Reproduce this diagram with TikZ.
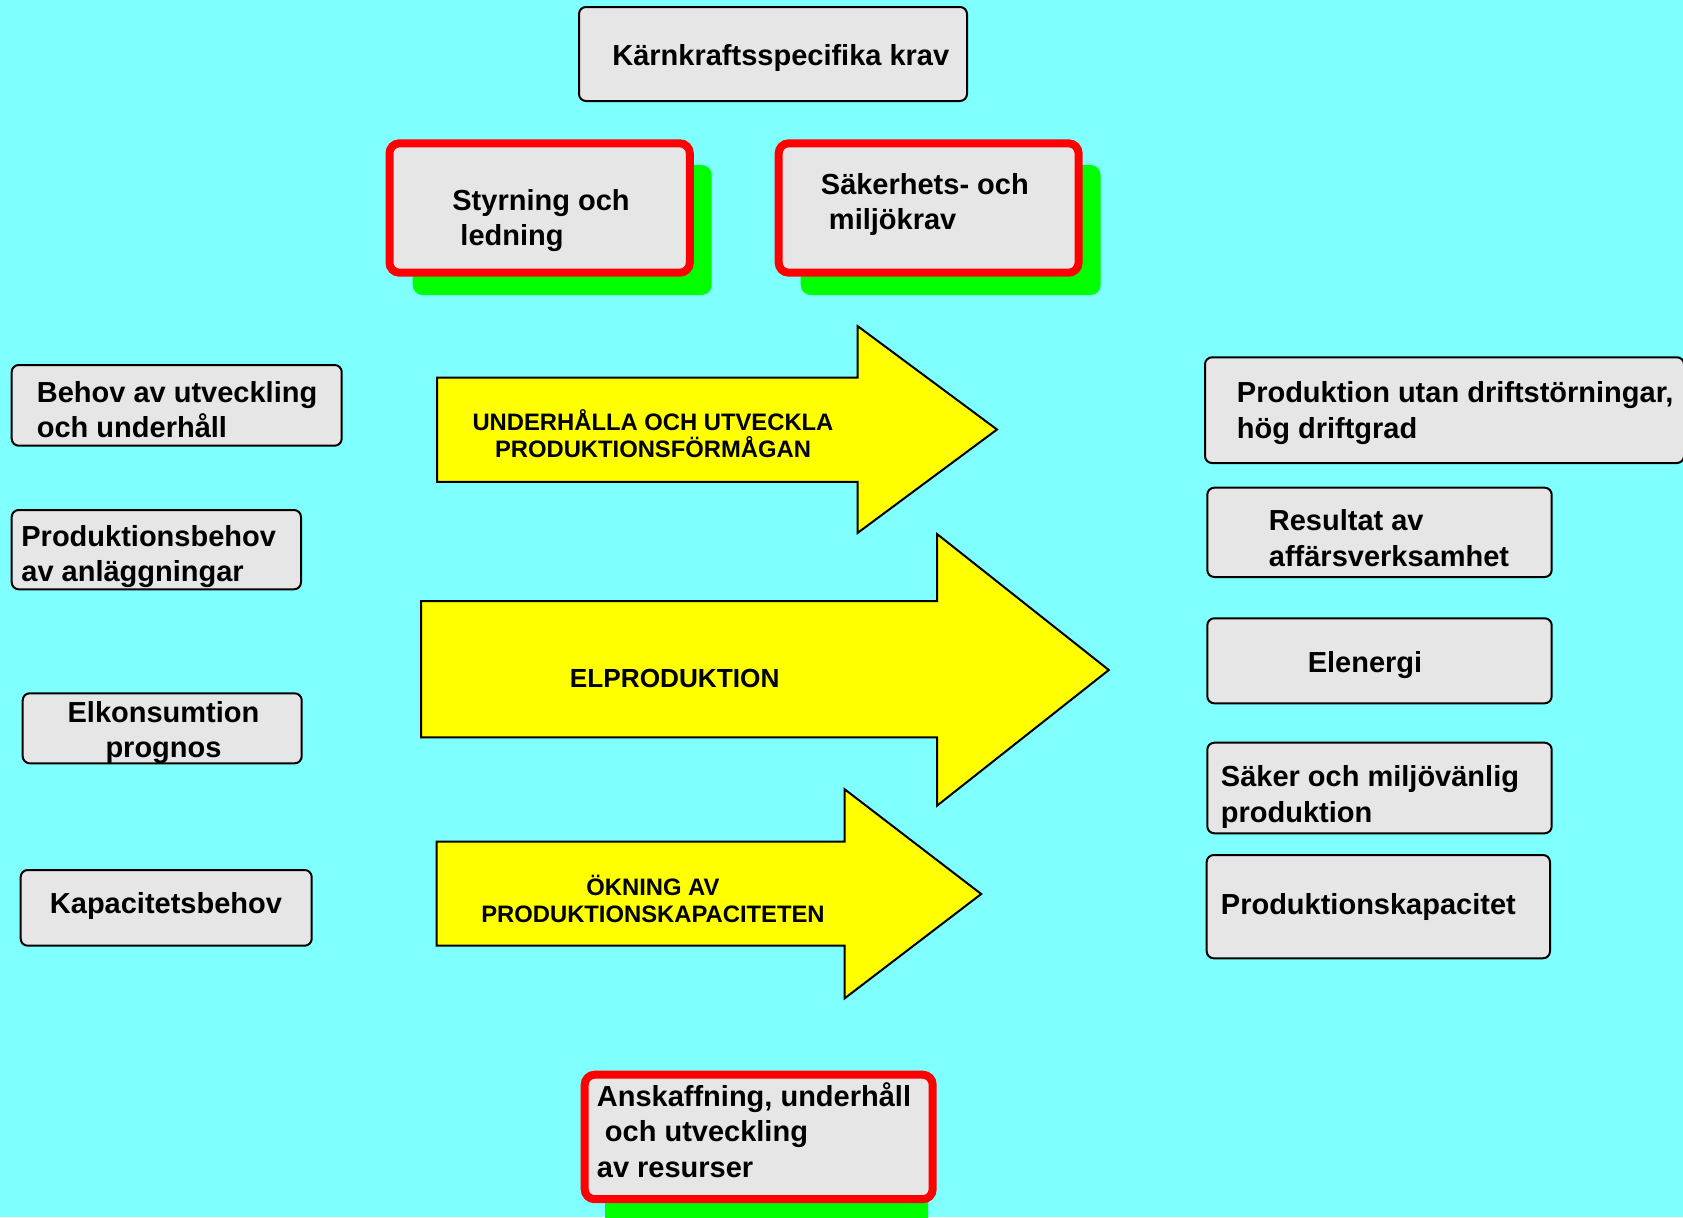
\documentclass[tikz,border=0pt]{standalone}
\usepackage{fontspec}
\setmainfont{Liberation Sans}
\usetikzlibrary{fit}

\definecolor{bgcyan}{HTML}{80FFFF}
\definecolor{boxgrey}{HTML}{E6E6E6}
\definecolor{shadowgreen}{HTML}{00FF00}
\definecolor{framered}{HTML}{FF0000}
\definecolor{arrowyellow}{HTML}{FFFF00}

% strut centred on the cap height, so that a node's centre sits on the text's visual middle
\newcommand\ls{\rule[-0.25em]{0pt}{1.22em}}
\newcommand\lead{\hspace*{0.278em}}

\tikzset{
  greybox/.style={draw=black, line width=1pt, fill=boxgrey, rounded corners=3.5pt, inner sep=0pt},
  redbox/.style={draw=framered, line width=4pt, fill=boxgrey, rounded corners=5pt, inner sep=0pt},
  greenshadow/.style={fill=shadowgreen, rounded corners=5pt, inner sep=0pt},
  boxtext/.style={font=\bfseries\fontsize{14.5}{17.8}\selectfont, inner sep=0pt, align=left, anchor=west},
  boxtextc/.style={font=\bfseries\fontsize{14.5}{17.8}\selectfont, inner sep=0pt, align=center},
  arrowtext/.style={font=\bfseries\fontsize{11.9}{13.6}\selectfont, inner sep=0pt, align=center},
  bigarrow/.style={draw=black, line width=1pt, fill=arrowyellow, line join=miter},
}

\begin{document}
\begin{tikzpicture}[x=0.5pt, y=-0.5pt]
\useasboundingbox (0,0) rectangle (1683,1217);
\fill[bgcyan] (0,0) rectangle (1683,1217);

% ---- top: requirements and steering ----
\node[greybox, fit={(579,7) (967,101)}] (kk) {};
\node[boxtext] (kk-t) at (612,55) {\ls Kärnkraftsspecifika krav};

\node[greenshadow, fit={(412.7,165) (711.7,295)}] (styr-sh) {};
\node[redbox, fit={(389.5,143.3) (689.8,272.7)}] (styr) {};
\node[boxtext] (styr-t) at (452,217.5) {\ls Styrning och\\\lead\ls ledning};

\node[greenshadow, fit={(800.7,165) (1100.6,295)}] (sak-sh) {};
\node[redbox, fit={(778.7,143.3) (1078.6,272.7)}] (sak) {};
\node[boxtext] (sak-t) at (820.5,201.5) {\ls Säkerhets- och\\\lead\ls miljökrav};

% ---- left: needs ----
\node[greybox, fit={(11.7,365) (341.7,445.7)}] (behov) {};
\node[boxtext] (behov-t) at (36.5,409.5) {\ls Behov av utveckling\\\ls och underhåll};

\node[greybox, fit={(11.7,510) (301,589.3)}] (prodbehov) {};
\node[boxtext] (prodbehov-t) at (21,553.5) {\ls Produktionsbehov\\\ls av anläggningar};

\node[greybox, fit={(22.7,693.3) (301.7,763.3)}] (elkons) {};
\node[boxtextc] (elkons-t) at (163.5,729.5) {\ls Elkonsumtion\\\ls prognos};

\node[greybox, fit={(20.7,870) (311.7,945.7)}] (kapbehov) {};
\node[boxtextc] (kapbehov-t) at (166,903) {\ls Kapacitetsbehov};

% ---- centre: process arrows ----
\draw[bigarrow] (437,377.5) -- (857.5,377.5) -- (857.5,326) -- (997,429.5)
  -- (857.5,533) -- (857.5,481.8) -- (437,481.8) -- cycle;
\node[arrowtext] (a1-t) at (653,434) {UNDERHÅLLA OCH UTVECKLA\\PRODUKTIONSFÖRMÅGAN};

\draw[bigarrow] (421,601) -- (937,601) -- (937,534) -- (1108.8,670)
  -- (937,805.7) -- (937,737.3) -- (421,737.3) -- cycle;
\node[arrowtext, font=\bfseries\fontsize{13.1}{15}\selectfont] (a2-t) at (674.7,678.5) {ELPRODUKTION};

\draw[bigarrow] (436.6,841.7) -- (844.7,841.7) -- (844.7,789.3) -- (981.2,894)
  -- (844.7,998.3) -- (844.7,945.7) -- (436.6,945.7) -- cycle;
\node[arrowtext] (a3-t) at (653,899) {ÖKNING AV\\PRODUKTIONSKAPACITETEN};

% ---- right: results ----
\node[greybox, fit={(1205,357.3) (1684,463)}] (drift) {};
\node[boxtext] (drift-t) at (1236.5,410) {\ls Produktion utan driftstörningar,\\\ls hög driftgrad};

\node[greybox, fit={(1207.3,487.7) (1551.7,577)}] (result) {};
\node[boxtext] (result-t) at (1268.5,538) {\ls Resultat av\\\ls affärsverksamhet};

\node[greybox, fit={(1207.3,618.3) (1551.7,703.3)}] (elenergi) {};
\node[boxtextc] (elenergi-t) at (1365,662) {\ls Elenergi};

\node[greybox, fit={(1207.3,742.7) (1551.7,833.3)}] (miljo) {};
\node[boxtext] (miljo-t) at (1220.5,794) {\ls Säker och miljövänlig\\\ls produktion};

\node[greybox, fit={(1206.7,855) (1550,958.3)}] (prodkap) {};
\node[boxtext] (prodkap-t) at (1220.5,904) {\ls Produktionskapacitet};

% ---- bottom: resources ----
\node[greenshadow, fit={(605,1095) (928,1240)}] (ansk-sh) {};
\node[redbox, fit={(584.7,1074.7) (932.7,1199.2)}] (ansk) {};
\node[boxtext] (ansk-t) at (596.5,1131.5) {\ls Anskaffning, underhåll\\\lead\ls och utveckling\\\ls av resurser};

\end{tikzpicture}
\end{document}
